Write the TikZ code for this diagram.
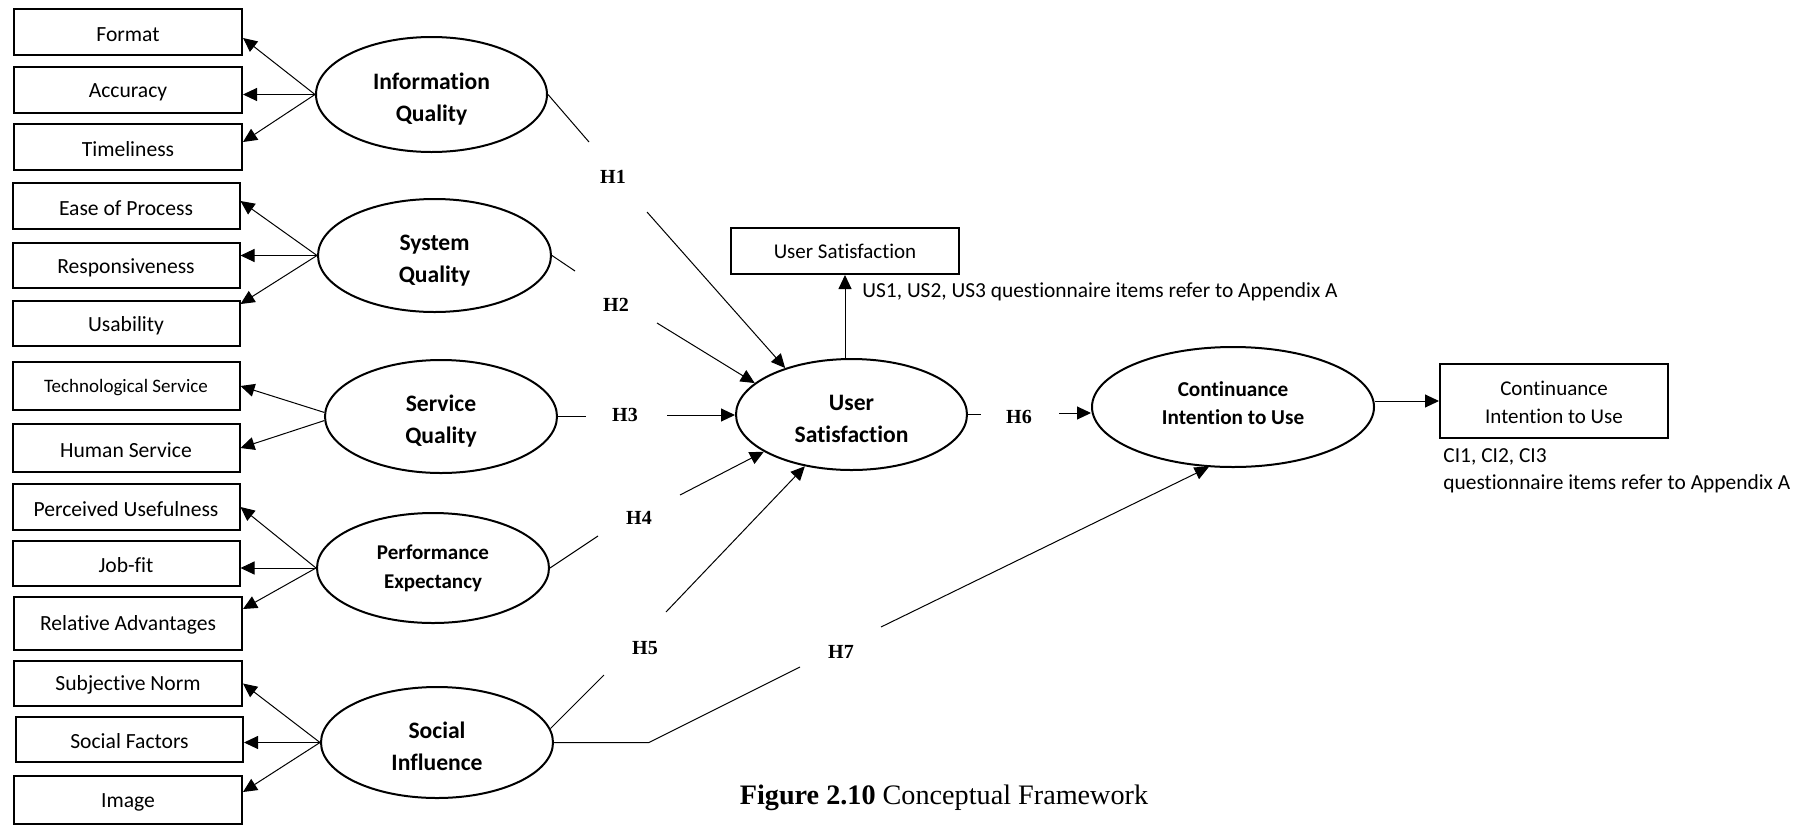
\documentclass[tikz,border=0pt]{standalone}
\usepackage{fontspec}
\setmainfont{Carlito}[Ligatures={NoCommon,NoRare,NoContextual}]
\newfontfamily\timesfont{Liberation Serif}
\usetikzlibrary{shapes.geometric,arrows.meta,calc}
% struts that set the vertical placement of the two-line labels
\newcommand\toprule{\rule{0pt}{12.4pt}}
\newcommand\boxrule{\rule{0pt}{9pt}}
\newcommand\botrule{\rule[-3.5pt]{0pt}{3.5pt}}

\begin{document}
\begin{tikzpicture}[x=0.5pt,y=-0.5pt,
  item/.style={draw, line width=1pt, minimum width=114pt, minimum height=23pt,
    inner sep=0pt, text height=9.3pt, font=\fontsize{10.8}{13}\selectfont},
  latent/.style={ellipse, draw, line width=1pt, inner sep=0pt, align=center,
    font=\bfseries\fontsize{11.8}{16}\selectfont},
  smalllatent/.style={latent, font=\bfseries\fontsize{10.5}{14.5}\selectfont},
  hyp/.style={inner sep=0pt, font=\timesfont\bfseries\fontsize{10}{12}\selectfont},
  note/.style={inner sep=0pt, font=\fontsize{10.7}{13.5}\selectfont},
  link/.style={line width=0.5pt},
  arr/.style={line width=0.5pt, -{Triangle[length=7pt,width=6.5pt]}}]

\useasboundingbox (0,0) rectangle (1804,825);

% ---------- indicator boxes ----------
\node[item] (format)     at (128,32)    {Format};
\node[item] (accuracy)   at (128,90)    {Accuracy};
\node[item] (timeliness) at (128,147)   {Timeliness};
\node[item, minimum width=113.5pt] (ease) at (126,206) {Ease of Process};
\node[item, minimum width=113.5pt, minimum height=22.5pt] (resp) at (126,265.5) {Responsiveness};
\node[item, minimum width=113.5pt, minimum height=22.5pt] (usab) at (126,323.5) {Usability};
\node[item, minimum width=113.5pt, minimum height=24pt, text height=8.6pt, font=\fontsize{9.5}{12}\selectfont] (tech) at (126,386) {Technological Service};
\node[item, minimum width=113.5pt, minimum height=24pt] (human) at (126,448) {Human Service};
\node[item, minimum width=113.5pt] (perc) at (126,507) {Perceived Usefulness};
\node[item, minimum width=113.5pt, minimum height=22.5pt] (jobfit) at (126,563.5) {Job-fit};
\node[item, minimum height=26.5pt] (relative) at (128,623.5) {Relative Advantages};
\node[item, minimum height=22.5pt] (subj) at (128,683.5) {Subjective Norm};
\node[item, minimum width=113.5pt, minimum height=22.5pt] (socialf) at (129.5,739.5) {Social Factors};
\node[item, minimum height=24pt] (image) at (128,800) {Image};

% ---------- latent constructs ----------
\node[latent, minimum width=115.5pt, minimum height=57.5pt] (iq) at (431.5,94.5) {\toprule Information\\Quality};
\node[latent, minimum width=116.5pt, minimum height=56.5pt] (sysq) at (434.5,255.5) {\toprule System\\Quality};
\node[latent, minimum width=116pt, minimum height=56.5pt] (servq) at (441,416.5) {\toprule Service\\Quality};
\node[smalllatent, minimum width=116pt, minimum height=55pt] (pe) at (433,568) {Performance\\Expectancy};
\node[latent, minimum width=116pt, minimum height=55.5pt] (si) at (437,742.5) {\toprule Social\\Influence};
\node[latent, minimum width=115.5pt, minimum height=55.5pt] (us) at (851.5,414.5) {\toprule User\\Satisfaction};
\node[latent, minimum width=141pt, minimum height=60pt, font=\bfseries\fontsize{10.6}{14}\selectfont] (ci) at (1233,407) {Continuance\\Intention to Use\botrule};

% ---------- outcome boxes and notes ----------
\node[item, text height=8pt, font=\fontsize{10.5}{13}\selectfont] (usbox) at (845,251) {User Satisfaction};
\node[draw, line width=1pt, minimum width=114pt, minimum height=37pt, inner sep=0pt, align=center, font=\fontsize{10.5}{14}\selectfont] (cibox) at (1554,401) {\boxrule Continuance\\Intention to Use};
\node[note, anchor=west] (usnote) at (862,292) {US1, US2, US3 questionnaire items refer to Appendix A};
\node[note, anchor=west, align=left] (cinote) at (1443,470.5) {CI1, CI2, CI3\\questionnaire items refer to Appendix A};

% ---------- measurement arrows ----------
\draw[arr] (iq.west) -- ([yshift=-3pt]format.east);
\draw[arr] (iq.west) -- (iq.west -| accuracy.east);
\draw[arr] (iq.west) -- ([yshift=2.5pt]timeliness.east);
\draw[arr] (sysq.west) -- ([yshift=2.5pt]ease.east);
\draw[arr] (sysq.west) -- (sysq.west -| resp.east);
\draw[arr] (sysq.west) -- ([yshift=9.75pt]usab.east);
\draw[arr] (servq.178) -- (tech.east);
\draw[arr] (servq.182) -- (human.east);
\draw[arr] (pe.west) -- (perc.east);
\draw[arr] (pe.west) -- (pe.west -| jobfit.east);
\draw[arr] (pe.west) -- ([yshift=7.25pt]relative.east);
\draw[arr] (si.west) -- (subj.east);
\draw[arr] (si.west) -- (si.west -| socialf.east);
\draw[arr] (si.west) -- ([yshift=4pt]image.east);

% ---------- hypothesis paths ----------
\coordinate (h1a) at (589,142);  \coordinate (h1b) at (647,212);
\coordinate (h2a) at (575,271);  \coordinate (h2b) at (657,323);
\coordinate (h3a) at (586,416);  \coordinate (h3b) at (667,415);
\coordinate (h4a) at (598,536);  \coordinate (h4b) at (680,495);
\coordinate (h5a) at (604,675);  \coordinate (h5b) at (666,612);
\coordinate (h6a) at (981,414);  \coordinate (h6b) at (1059,413);
\coordinate (h7c) at (649,742.5);
\coordinate (h7a) at (800,667);  \coordinate (h7b) at (881,627);

\node[hyp] (h1) at (613,177) {H1};
\node[hyp] (h2) at (616,305) {H2};
\node[hyp] (h3) at (625,415) {H3};
\node[hyp] (h4) at (639,518) {H4};
\node[hyp] (h5) at (645,648) {H5};
\node[hyp] (h6) at (1019,417) {H6};
\node[hyp] (h7) at (841,652) {H7};

\draw[link] (iq.east) -- (h1a);
\draw[arr] (h1b) -- (us.145);
\draw[link] (sysq.east) -- (h2a);
\draw[arr] (h2b) -- (us.162);
\draw[link] (servq.east) -- (servq.east -| h3a);
\draw[arr] (h3b) -- (h3b -| us.west);
\draw[link] (pe.east) -- (h4a);
\draw[arr] (h4b) -- (us.203);
\draw[link] (si.7) -- (h5a);
\draw[arr] (h5b) -- (us.228);
\draw[link] (us.east) -- (us.east -| h6a);
\draw[arr] (h6b) -- (h6b -| ci.west);
\draw[link] (si.east) -- (h7c) -- (h7a);
\draw[arr] (h7b) -- (ci.248);

\draw[arr] (us.north -| usbox.south) -- (usbox.south);
\draw[arr] (ci.east |- cibox.west) -- (cibox.west);

% ---------- caption ----------
\node[inner sep=0pt, font=\timesfont\fontsize{14.1}{16}\selectfont] (caption) at (944,798)
  {\textbf{Figure 2.10} Conceptual Framework};
\end{tikzpicture}
\end{document}
